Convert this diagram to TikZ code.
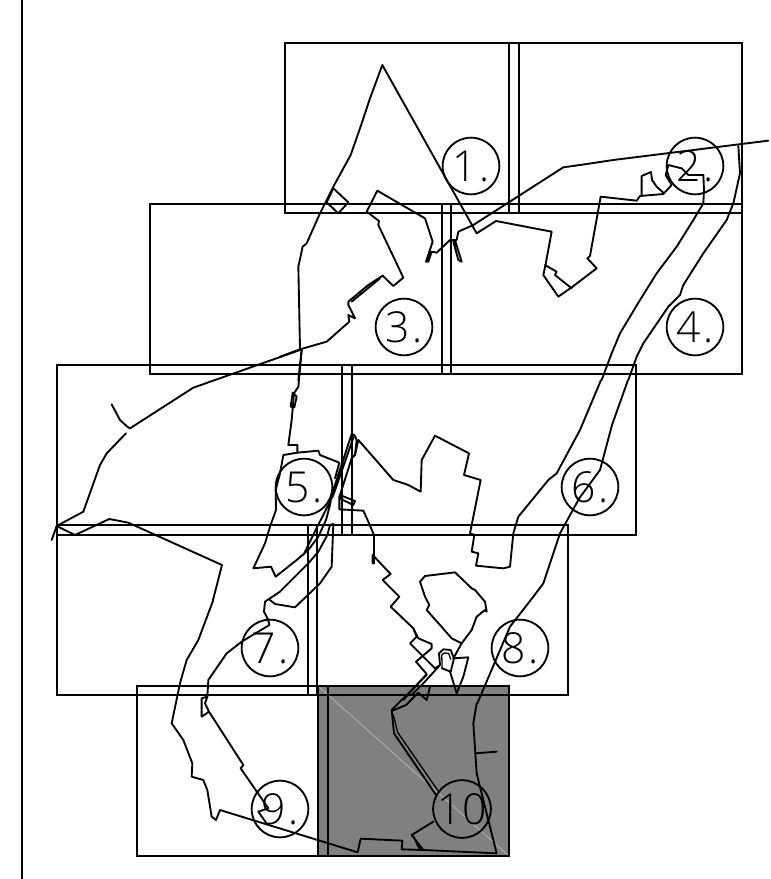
\documentclass[tikz,border=0pt]{standalone}
\usepackage{fontspec}
\newfontfamily\numfont{Open Sans Light}
\tikzset{
  z/.style 2 args={shift={(#1,#2)},x=.25pt,y=-.25pt},
  sheet/.style={draw=black,line width=1.35pt},
  route/.style={draw=black,line width=1.4pt,line join=round,line cap=round},
  fine route/.style={draw=black,line width=1pt,line join=round,line cap=round},
  mark num/.style={circle,draw=black,line width=1.4pt,minimum size=42.5pt,inner sep=0pt,font=\numfont\fontsize{32}{32}\selectfont},
}
\newcommand{\pdot}{\kern2pt.}
\begin{document}
\begin{tikzpicture}[x=.75pt,y=-.75pt]
\useasboundingbox (0,0) rectangle (771,879);
\fill[white] (0,0) rectangle (771,879);
% shaded sheet
\fill[black!50] (318,686) rectangle (509,856);
\draw[black!30,line width=.6pt] (318,686) -- (509,856);
% margin
\draw[sheet] (22,0) -- (22,879);
% sheets
\draw[sheet] (285,43) rectangle (742,213);
\draw[sheet] (509,43) rectangle (519,213);
\draw[sheet] (150,204) rectangle (742,374);
\draw[sheet] (442,204) rectangle (451,374);
\draw[sheet] (57,365) rectangle (636,535);
\draw[sheet] (342,365) rectangle (352,535);
\draw[sheet] (57,525) rectangle (568,695);
\draw[sheet] (308,525) rectangle (317,695);
\draw[sheet] (137,686) rectangle (509,856);
\draw[sheet] (318,686) rectangle (328,856);
% numbered marks
\node[mark num] (c1) at (471,166) {1\pdot};
\node[mark num] (c2) at (695,166) {2\pdot};
\node[mark num] (c3) at (404,327) {3\pdot};
\node[mark num] (c4) at (695,327) {4\pdot};
\node[mark num] (c5) at (304,487) {5\pdot};
\node[mark num] (c6) at (590,487) {6\pdot};
\node[mark num] (c7) at (270,648) {7\pdot};
\node[mark num] (c8) at (520,648) {8\pdot};
\node[mark num] (c9) at (280,809) {9\pdot};
\node[mark num] (c10) at (462,809) {10};
% north part
\begin{scope}[z={280}{40}]
\draw[route] (55,1020) -- (65,930) -- (60,925) -- (55,680) -- (68,620) -- (80,610) -- (120,520) -- (160,440) -- (212,345) -- (240,265) -- (270,175) -- (307,75) -- (590,580) -- (648,543) -- (815,575) -- (797,672) -- (790,705) -- (835,770) -- (875,742) -- (950,685) -- (922,655) -- (930,648) -- (962,470) -- (1070,482) -- (1080,468) -- (1150,462) -- (1175,435) -- (1157,405) -- (1165,375) -- (1205,385) -- (1225,405) -- (1270,405) -- (1272,450) -- (1270,490) -- (1240,540) -- (1190,620) -- (1130,700) -- (1080,780) -- (1020,880) -- (995,940) -- (965,1020);
\draw[route] (1085,468) -- (1085,408) -- (1113,396) -- (1116,420) -- (1130,440) -- (1150,458);
\draw[route] (1375,318) -- (1380,400) -- (1360,490) -- (1340,540) -- (1270,640) -- (1210,735) -- (1200,765) -- (1165,800) -- (1090,910) -- (1070,950) -- (1045,1020);
\draw[route] (1465,302) -- (1000,360) -- (900,375) -- (850,382) -- (580,555) -- (535,575) -- (530,600) -- (510,600) -- (470,638) -- (455,635) -- (445,665) -- (438,665) -- (458,605) -- (435,535) -- (292,452) -- (260,515) -- (297,543) -- (295,555) -- (370,713) -- (340,738) -- (308,707) -- (265,735) -- (205,785) -- (205,795) -- (225,835) -- (205,825) -- (208,845) -- (140,905) -- (60,928) -- (0,950);
\draw[route] (215,785) -- (300,715);
\draw[route] (525,600) -- (545,665) -- (535,660) -- (520,605);
\draw[route] (160,445) -- (205,487) -- (175,520) -- (140,487) -- cycle;
\draw[route] (795,675) -- (830,695) -- (825,705) -- (875,745);
\end{scope}
% west part
\begin{scope}[z={40}{200}]
\draw[route] (780,450) -- (460,563) -- (270,685) -- (262,680) -- (240,660) -- (215,613);
\draw[route] (258,700) -- (200,760) -- (180,795) -- (130,935) -- (50,978) -- (105,1005) -- (208,957) -- (265,968) -- (380,1020) -- (546,1095) -- (519,1200);
\draw[route] (50,978) -- (35,1020);
\draw[route] (785,450) -- (775,560) -- (762,580) -- (755,660) -- (745,735) -- (772,735) -- (772,755);
\draw[route] (758,578) -- (770,590) -- (763,622) -- (752,620) -- cycle;
\end{scope}
% centre part
\begin{scope}[z={240}{420}]
\draw[route] (172,98) -- (130,105) -- (120,160) -- (107,210) -- (108,270) -- (90,320) -- (75,370) -- (40,445) -- (93,440) -- (107,470) -- (170,420) -- (205,390) -- (235,350) -- (258,300) -- (270,255) -- (275,225) -- (335,42) -- (343,45) -- (280,225) -- (232,320) -- (190,405);
\draw[route] (172,98) -- (235,92) -- (240,105) -- (298,128) -- (285,175);
\draw[route] (343,45) -- (350,60) -- (345,105) -- (335,115) -- (300,225) -- (345,243) -- (340,255) -- (305,238) -- (298,228) -- (298,268) -- (370,272) -- (385,305) -- (402,345) -- (402,430) -- (398,430) -- (398,405) -- (452,462) -- (428,480) -- (478,530) -- (452,560) -- (520,625) -- (535,655) -- (575,672) -- (575,685) -- (528,725) -- (560,762) -- (530,795) -- (490,840);
\draw[route] (520,625) -- (530,650) -- (510,670) -- (585,745) -- (600,735) -- (550,790) -- (515,825);
\draw[route] (600,735) -- (597,700) -- (610,688) -- (632,690) -- (642,715) -- (632,755) -- (606,745);
\draw[fine route] (606,745) -- (606,725) -- (605,705) -- (613,699) -- (626,700) -- (632,718);
\draw[route] (640,715) -- (665,670) -- (695,630) -- (710,590) -- (735,570) -- (740,575) -- (735,545) -- (705,510) -- (695,505) -- (645,457) -- (555,468) -- (540,485) -- (555,530) -- (568,555) -- (560,570) -- (600,615) -- (635,655) -- (665,670);
\draw[route] (640,715) -- (685,712) -- (670,770) -- (650,820) -- (630,755);
\draw[route] (1020,30) -- (950,160) -- (925,180) -- (835,290) -- (820,340) -- (810,440) -- (790,445) -- (708,437) -- (715,400) -- (695,395) -- (703,345) -- (690,340) -- (722,180) -- (672,165) -- (687,100) -- (585,47) -- (545,120) -- (542,215) -- (505,195) -- (460,180) -- (355,60) -- (345,105);
\draw[route] (1015,240) -- (960,340) -- (910,490) -- (880,530) -- (810,620) -- (712,850);
\draw[route] (5,665) -- (88,615) -- (85,600) -- (72,575) -- (75,545) -- (120,515) -- (135,500) -- (205,430) -- (235,395) -- (262,345) -- (270,315) -- (280,312) -- (275,440) -- (240,490) -- (165,562) -- (105,552) -- (90,540);
\end{scope}
\draw[route] (601,380) -- (580,430);
\draw[route] (628,380) -- (612,425) -- (600,470) -- (578,500);
% south part
\begin{scope}[z={130}{600}]
\draw[route] (890,225) -- (785,330) -- (792,400) -- (918,585);
\draw[fine route] (790,345) -- (803,397) -- (928,578);
\draw[route] (900,260) -- (890,300) -- (865,278) -- (828,315) -- (785,333);
\draw[route] (910,665) -- (845,705) -- (880,750) -- (870,750) -- (850,708);
\draw[route] (880,750) -- (815,748) -- (817,722) -- (692,716) -- (683,757) -- (270,630) -- (258,660) -- (245,650) -- (232,570) -- (220,540) -- (185,530) -- (187,490) -- (160,420) -- (125,370) -- (150,250) -- (170,180) -- (205,120) -- (250,0);
\draw[route] (880,750) -- (1100,760) -- (1040,520) -- (1030,370) -- (1040,310);
\draw[route] (1035,460) -- (1100,455);
\draw[route] (335,125) -- (290,160) -- (235,240) -- (232,290) -- (215,295) -- (215,350) -- (237,335) -- (225,310) -- (232,290);
\draw[route] (237,335) -- (340,495) -- (332,505) -- (415,625) -- (385,635) -- (408,668);
\end{scope}
\end{tikzpicture}
\end{document}
